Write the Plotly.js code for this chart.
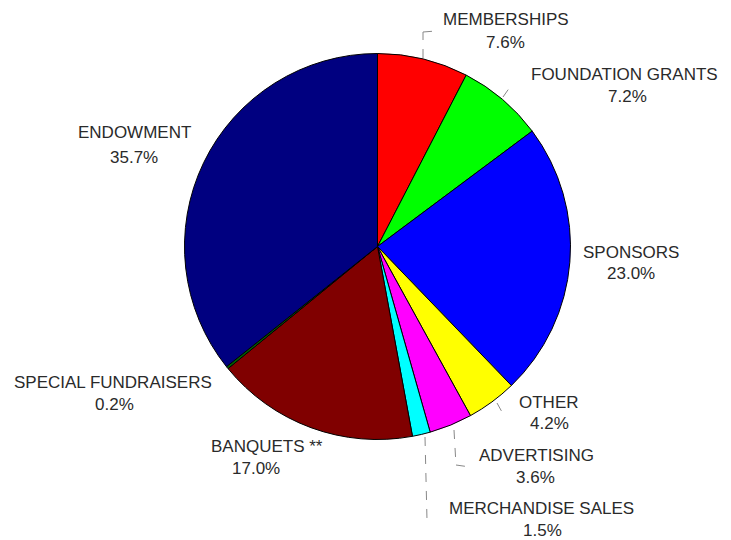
<!DOCTYPE html>
<html lang="en">
<head>
    <meta charset="UTF-8">
    <title>Revenue Sources</title>
    <script src="https://cdn.plot.ly/plotly-3.0.1.min.js"></script>
    <style>
        body { margin: 0; padding: 0; background: white; }
        #plot { width: 731px; height: 540px; }
    </style>
</head>
<body>
    <div id="plot"></div>
    <script>
        // clockwise from 12 o'clock
        const categories = ['MEMBERSHIPS', 'FOUNDATION GRANTS', 'SPONSORS', 'OTHER', 'ADVERTISING',
            'MERCHANDISE SALES', 'BANQUETS **', 'SPECIAL FUNDRAISERS', 'ENDOWMENT'];
        const shares = [7.6, 7.2, 23.0, 4.2, 3.6, 1.5, 17.0, 0.2, 35.7];
        const sliceColors = ['#FF0000', '#00FF00', '#0000FF', '#FFFF00', '#FF00FF',
            '#00FFFF', '#800000', '#006400', '#000080'];

        const W = 731, H = 540;
        const px = x => x / W;
        const py = y => 1 - y / H;

        // label centres (pixels): name line and percent line
        const labelSpots = [
            [506, 20, 505, 43],
            [624, 74, 627, 97],
            [631, 252, 631, 273],
            [549, 402, 549, 423],
            [536, 455, 535, 477],
            [541, 508, 542, 530],
            [267, 447, 256, 468],
            [113, 382, 114, 404],
            [134, 133, 134, 157]
        ];

        // leader lines (pixels)
        const leaders = [
            [[423, 58], [423, 32], [436, 31]],
            [[503, 97], [510, 87]],
            [[497, 403], [502, 412]],
            [[454, 430], [456, 465], [470, 467]],
            [[425, 437], [427, 520]]
        ];

        const font = {family: 'Liberation Sans, Arial, sans-serif', size: 17, color: '#2a2a2a'};
        const annotations = [];
        categories.forEach((name, i) => {
            const s = labelSpots[i];
            annotations.push({
                x: px(s[0]), y: py(s[1]), xref: 'paper', yref: 'paper',
                text: name, showarrow: false, font: font, xanchor: 'center', yanchor: 'middle'
            });
            annotations.push({
                x: px(s[2]), y: py(s[3]), xref: 'paper', yref: 'paper',
                text: shares[i].toFixed(1) + '%', showarrow: false, font: font,
                xanchor: 'center', yanchor: 'middle'
            });
        });

        const shapes = [];
        leaders.forEach(pts => {
            for (let k = 0; k < pts.length - 1; k++) {
                shapes.push({
                    type: 'line', xref: 'paper', yref: 'paper',
                    x0: px(pts[k][0]), y0: py(pts[k][1]),
                    x1: px(pts[k + 1][0]), y1: py(pts[k + 1][1]),
                    line: {color: '#888', width: 1, dash: 'dash'}
                });
            }
        });

        const cx = 377.5, cy = 246.5, r = 193;
        const trace = {
            type: 'pie',
            labels: categories,
            values: shares,
            sort: false,
            direction: 'clockwise',
            rotation: 0,
            textinfo: 'none',
            hoverinfo: 'label+percent',
            marker: {colors: sliceColors, line: {color: '#000', width: 1}},
            domain: {x: [px(cx - r), px(cx + r)], y: [py(cy + r), py(cy - r)]},
            showlegend: false
        };

        const layout = {
            width: W,
            height: H,
            margin: {t: 0, r: 0, b: 0, l: 0},
            paper_bgcolor: 'white',
            showlegend: false,
            annotations: annotations,
            shapes: shapes
        };

        Plotly.newPlot('plot', [trace], layout, {displayModeBar: false});
    </script>
</body>
</html>
